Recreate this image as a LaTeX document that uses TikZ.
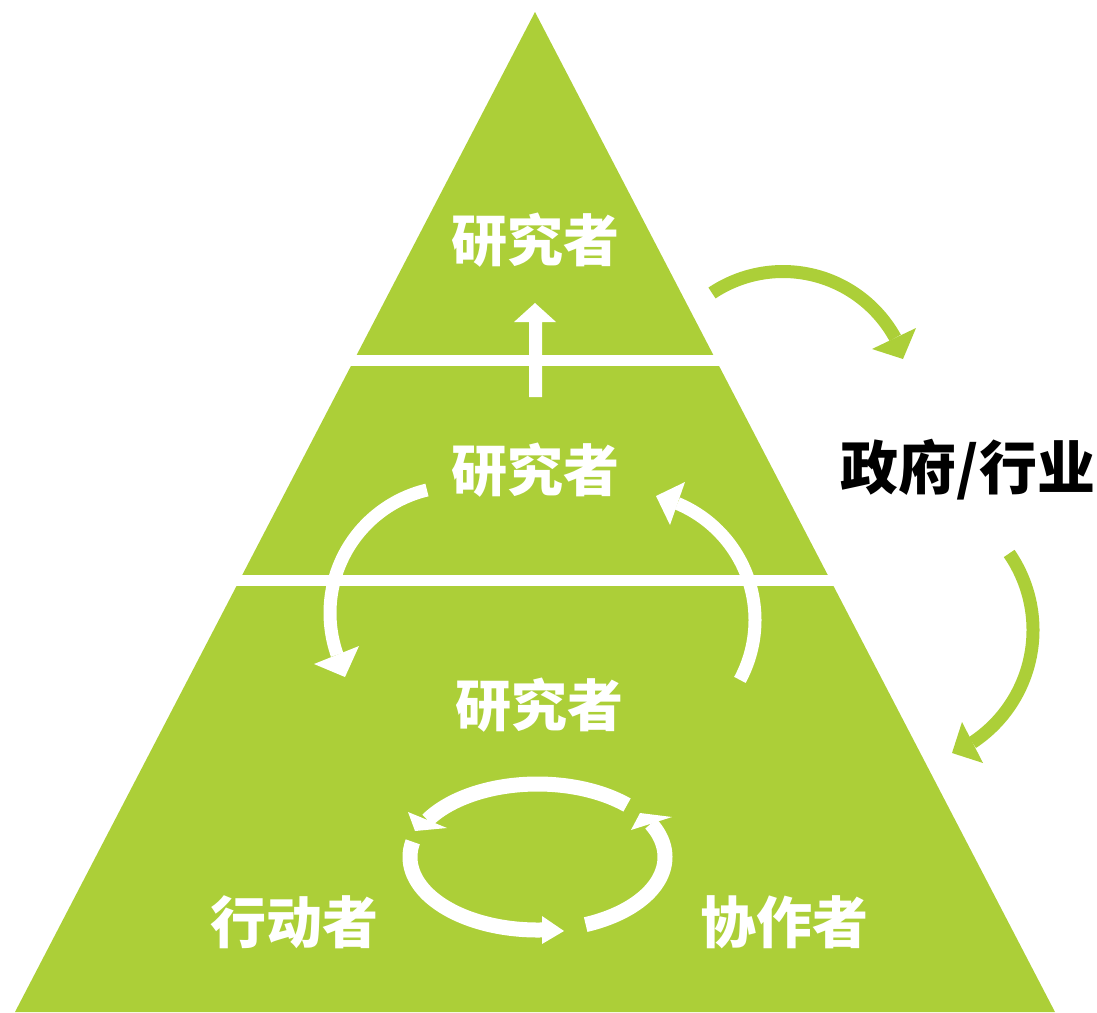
\documentclass[tikz,border=0pt]{standalone}
\usepackage{fontspec}
\newfontfamily\cjk{Noto Sans CJK SC}
\definecolor{leaf}{RGB}{172,207,56}
\newcommand\arcline[8]{%
  \draw[#1, line width=#2] plot[domain=#7:#8, samples=100] ({#3+#5*cos(\x)},{#4+#6*sin(\x)});}
\begin{document}
\begin{tikzpicture}[x=1pt,y=-1pt,
  wtext/.style={text=white, font=\cjk\bfseries\fontsize{56}{60}\selectfont, inner sep=0pt},
  btext/.style={text=black, font=\cjk\bfseries\fontsize{58}{62}\selectfont, inner sep=0pt}]
\useasboundingbox (0,0) rectangle (1097,1012);
% pyramid
\fill[leaf] (535,12) -- (15,1012) -- (1055,1012) -- cycle;
\fill[white] (330,355) rectangle (740,366);
\fill[white] (215,575) rectangle (855,586);
% up arrow
\fill[white] (529,397) -- (529,322) -- (514,322) -- (535,303) -- (556,322) -- (542,322) -- (542,397) -- cycle;
% middle circular arrows
\arcline{white}{13}{456.5}{613}{126.5}{126.5}{256.5}{160.7}
\fill[white] (314,664) -- (345,677) -- (359,646) -- cycle;
\arcline{white}{13}{628.7}{620}{126.3}{126.3}{28.3}{-67.3}
\fill[white] (685,482) -- (656,496) -- (670,525) -- cycle;
% bottom cycle
\arcline{white}{15}{537.5}{857}{127.5}{73}{-45.4}{-149.6}
\fill[white] (408,812) -- (415,831) -- (447,828) -- cycle;
\arcline{white}{15}{537.5}{857}{127.5}{73}{192}{88}
\fill[white] (542,916) -- (564,931) -- (542,944) -- cycle;
\arcline{white}{15}{537.5}{857}{127.5}{73}{67.8}{-27.2}
\fill[white] (631,830) -- (640,813) -- (672,817) -- cycle;
% green arrows
\arcline{leaf}{13}{783}{399.5}{128}{128}{-123.7}{-28.8}
\fill[leaf] (872,349) -- (903,359) -- (916,328) -- cycle;
\arcline{leaf}{13}{898.2}{630}{134.8}{134.8}{-34.6}{56.6}
\fill[leaf] (962,722) -- (952,753) -- (983,763) -- cycle;
% labels
\node[wtext] (r1) at (535,240) {研究者};
\node[wtext] (r2) at (535,470) {研究者};
\node[wtext] (r3) at (539,705) {研究者};
\node[wtext] (act) at (294,922) {行动者};
\node[wtext] (col) at (784,922) {协作者};
\node[btext] (gov) at (968,470) {政府/行业};
\end{tikzpicture}
\end{document}
